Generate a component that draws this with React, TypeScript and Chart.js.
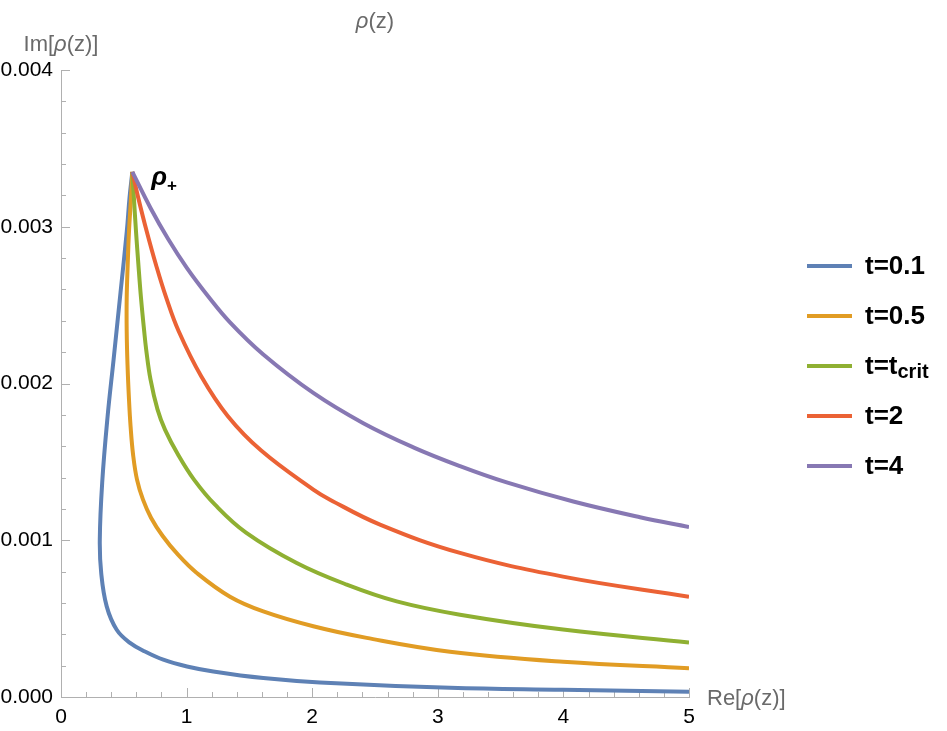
import React, { useEffect, useRef } from "react";
import { Chart, registerables } from "chart.js";

Chart.register(...registerables);

// ---- data ----
const legendMain = ["t=0.1", "t=0.5", "t=t", "t=2", "t=4"];
const legendSub = ["", "", "crit", "", ""];
const seriesColors = ["#5E81B5", "#E19C24", "#8FB032", "#EB6235", "#8778B3"];

const t01X = [0.568, 0.5454, 0.5239, 0.4737, 0.4188, 0.371, 0.328, 0.3089, 0.3201, 0.3639, 0.4435, 0.5494, 0.6688, 0.8145, 1.0032, 1.2126, 1.6107, 2.0621, 3.0971, 3.9968, 5.0];
const t01Y = [0.00335, 0.003184, 0.002971, 0.00258, 0.002153, 0.00179, 0.001368, 0.001004, 0.000791, 0.000578, 0.000429, 0.000345, 0.00029, 0.000238, 0.000195, 0.000163, 0.000121, 0.0000932, 0.0000593, 0.0000466, 0.0000338];

const t05X = [0.568, 0.5573, 0.5414, 0.5311, 0.5231, 0.5231, 0.5295, 0.5414, 0.5541, 0.574, 0.6051, 0.6529, 0.7166, 0.8081, 0.9315, 1.0788, 1.3455, 1.6107, 2.0088, 2.4339, 3.0971, 3.9968, 5.0];
const t05Y = [0.00335, 0.003184, 0.002971, 0.002759, 0.002546, 0.002333, 0.002121, 0.001897, 0.001725, 0.001546, 0.001387, 0.001259, 0.001144, 0.001029, 0.000908, 0.000793, 0.00064, 0.000546, 0.000451, 0.000377, 0.000289, 0.000225, 0.000183];

const tCritX = [0.568, 0.5804, 0.5971, 0.6162, 0.6369, 0.6624, 0.6783, 0.7126, 0.7683, 0.828, 0.9315, 1.0589, 1.2261, 1.4729, 1.8766, 2.2747, 2.6728, 3.1768, 3.9968, 5.0];
const tCritY = [0.00335, 0.003184, 0.002971, 0.002759, 0.002546, 0.002333, 0.002216, 0.002026, 0.001835, 0.001706, 0.001547, 0.001387, 0.001227, 0.001049, 0.000855, 0.000717, 0.00061, 0.000525, 0.00043, 0.000348];

const t2X = [0.568, 0.6154, 0.6823, 0.7556, 0.8384, 0.9371, 1.1162, 1.3288, 1.5939, 2.0088, 2.1417, 2.5398, 3.1768, 3.9968, 5.0];
const t2Y = [0.00335, 0.003184, 0.002971, 0.002759, 0.002546, 0.002333, 0.002046, 0.001791, 0.001572, 0.001323, 0.001259, 0.0011, 0.000919, 0.000768, 0.00064];

const t4X = [0.568, 0.7126, 0.8543, 1.0032, 1.1728, 1.3455, 1.6107, 2.0088, 2.4068, 2.8049, 3.1768, 3.5486, 4.0788, 4.6099, 5.0];
const t4Y = [0.00335, 0.00312, 0.00292, 0.002736, 0.002555, 0.00239, 0.002185, 0.00194, 0.001747, 0.001593, 0.001473, 0.001369, 0.001247, 0.001147, 0.001085];

const seriesX = [t01X, t05X, tCritX, t2X, t4X];
const seriesY = [t01Y, t05Y, tCritY, t2Y, t4Y];

const xTicks = [0, 1, 2, 3, 4, 5];
const yTicks = [0, 0.001, 0.002, 0.003, 0.004];

const titleText = ["", "ρ", "(z)"];
const yAxisText = ["Im[", "ρ", "(z)]"];
const xAxisText = ["Re[", "ρ", "(z)]"];
const peakLabel = ["ρ", "+"];

const FONT = "'Liberation Sans', Arial, Helvetica, sans-serif";
const AXIS_GREY = "#b0b0b0";
const LABEL_GREY = "#6a6a6a";

type Part = { text: string; font: string; dy?: number };

function drawParts(ctx: CanvasRenderingContext2D, parts: Part[], x: number, y: number, align: "left" | "center") {
  let total = 0;
  for (const p of parts) {
    ctx.font = p.font;
    total += ctx.measureText(p.text).width;
  }
  let cx = align === "center" ? x - total / 2 : x;
  ctx.textAlign = "left";
  for (const p of parts) {
    ctx.font = p.font;
    ctx.fillText(p.text, cx, y + (p.dy || 0));
    cx += ctx.measureText(p.text).width;
  }
}

function labelParts(arr: string[], size: number): Part[] {
  return [
    { text: arr[0], font: `${size}px ${FONT}` },
    { text: arr[1], font: `italic ${size}px ${FONT}` },
    { text: arr[2], font: `${size}px ${FONT}` },
  ];
}

const decorPlugin = {
  id: "decor",
  beforeDatasetsDraw(chart: any) {
    const { ctx, chartArea, scales } = chart;
    const xs = scales.x;
    const ys = scales.y;
    ctx.save();
    ctx.strokeStyle = AXIS_GREY;
    ctx.lineWidth = 1;
    // x minor/major ticks, pointing into the plot
    for (let i = 0; i <= 25; i++) {
      const v = i * 0.2;
      const px = Math.round(xs.getPixelForValue(v)) + 0.5;
      const len = i % 5 === 0 ? 9 : 5;
      ctx.beginPath();
      ctx.moveTo(px, chartArea.bottom);
      ctx.lineTo(px, chartArea.bottom - len);
      ctx.stroke();
    }
    for (let i = 0; i <= 20; i++) {
      const v = i * 0.0002;
      const py = Math.round(ys.getPixelForValue(v)) + 0.5;
      const len = i % 5 === 0 ? 9 : 5;
      ctx.beginPath();
      ctx.moveTo(chartArea.left, py);
      ctx.lineTo(chartArea.left + len, py);
      ctx.stroke();
    }
    ctx.restore();
  },
  afterDraw(chart: any) {
    const { ctx, chartArea, scales } = chart;
    const xs = scales.x;
    const ys = scales.y;
    ctx.save();
    ctx.fillStyle = LABEL_GREY;
    ctx.textBaseline = "middle";
    // title
    drawParts(ctx, labelParts(titleText, 22), (chartArea.left + chartArea.right) / 2, chartArea.top - 48, "center");
    // y axis label
    drawParts(ctx, labelParts(yAxisText, 22), chartArea.left, chartArea.top - 25, "center");
    // x axis label
    drawParts(ctx, labelParts(xAxisText, 22), chartArea.right + 18, chartArea.bottom + 2, "left");

    // peak annotation rho_+
    ctx.fillStyle = "#000";
    ctx.textBaseline = "alphabetic";
    const px = xs.getPixelForValue(t01X[0]);
    const py = ys.getPixelForValue(t01Y[0]);
    drawParts(
      ctx,
      [
        { text: peakLabel[0], font: `italic bold 26px ${FONT}` },
        { text: peakLabel[1], font: `bold 17px ${FONT}`, dy: 6 },
      ],
      px + 19,
      py + 13,
      "left"
    );

    // legend
    for (let i = 0; i < legendMain.length; i++) {
      const rowY = chartArea.top + 196 + 50 * i;
      const lx = chartArea.right + 118;
      ctx.strokeStyle = seriesColors[i];
      ctx.lineWidth = 4;
      ctx.beginPath();
      ctx.moveTo(lx, rowY);
      ctx.lineTo(lx + 45, rowY);
      ctx.stroke();
      ctx.fillStyle = "#000";
      const parts: Part[] = [{ text: legendMain[i], font: `bold 26px ${FONT}` }];
      if (legendSub[i]) parts.push({ text: legendSub[i], font: `bold 20px ${FONT}`, dy: 4 });
      drawParts(ctx, parts, lx + 58, rowY + 8, "left");
    }
    ctx.restore();
  },
};

export default function App() {
  const canvasRef = useRef<HTMLCanvasElement | null>(null);

  useEffect(() => {
    if (!canvasRef.current) return;
    const datasets = seriesX.map((xsArr, i) => ({
      label: legendMain[i] + legendSub[i],
      data: xsArr.map((xv, j) => ({ x: xv, y: seriesY[i][j] })),
      showLine: true,
      borderColor: seriesColors[i],
      backgroundColor: seriesColors[i],
      borderWidth: 4,
      pointRadius: 0,
      tension: 0.4,
      fill: false,
      order: seriesX.length - i,
    }));

    const chart = new Chart(canvasRef.current, {
      type: "scatter",
      data: { datasets },
      options: {
        animation: false,
        responsive: true,
        maintainAspectRatio: false,
        layout: { padding: { left: 0, top: 70, right: 258, bottom: 0 } },
        plugins: {
          legend: { display: false },
          title: { display: false },
          tooltip: { enabled: false },
        },
        scales: {
          x: {
            type: "linear",
            min: 0,
            max: 5,
            afterFit: (scale: any) => {
              scale.height = 34;
            },
            afterBuildTicks: (scale: any) => {
              scale.ticks = xTicks.map((v) => ({ value: v }));
            },
            grid: { display: false, drawTicks: false },
            border: { display: true, color: AXIS_GREY, width: 1 },
            ticks: {
              color: "#000",
              padding: 8,
              font: { family: FONT, size: 21 },
              maxRotation: 0,
              callback: (v: any) => String(v),
            },
          },
          y: {
            type: "linear",
            min: 0,
            max: 0.004,
            afterFit: (scale: any) => {
              scale.width = 61;
            },
            afterBuildTicks: (scale: any) => {
              scale.ticks = yTicks.map((v) => ({ value: v }));
            },
            grid: { display: false, drawTicks: false },
            border: { display: true, color: AXIS_GREY, width: 1 },
            ticks: {
              color: "#000",
              padding: 8,
              font: { family: FONT, size: 21 },
              callback: (v: any) => Number(v).toFixed(3),
            },
          },
        },
      },
      plugins: [decorPlugin],
    });
    return () => chart.destroy();
  }, []);

  return (
    <div style={{ position: "absolute", left: 0, top: 0, width: 947, height: 731, background: "#fff" }}>
      <canvas ref={canvasRef} />
    </div>
  );
}
